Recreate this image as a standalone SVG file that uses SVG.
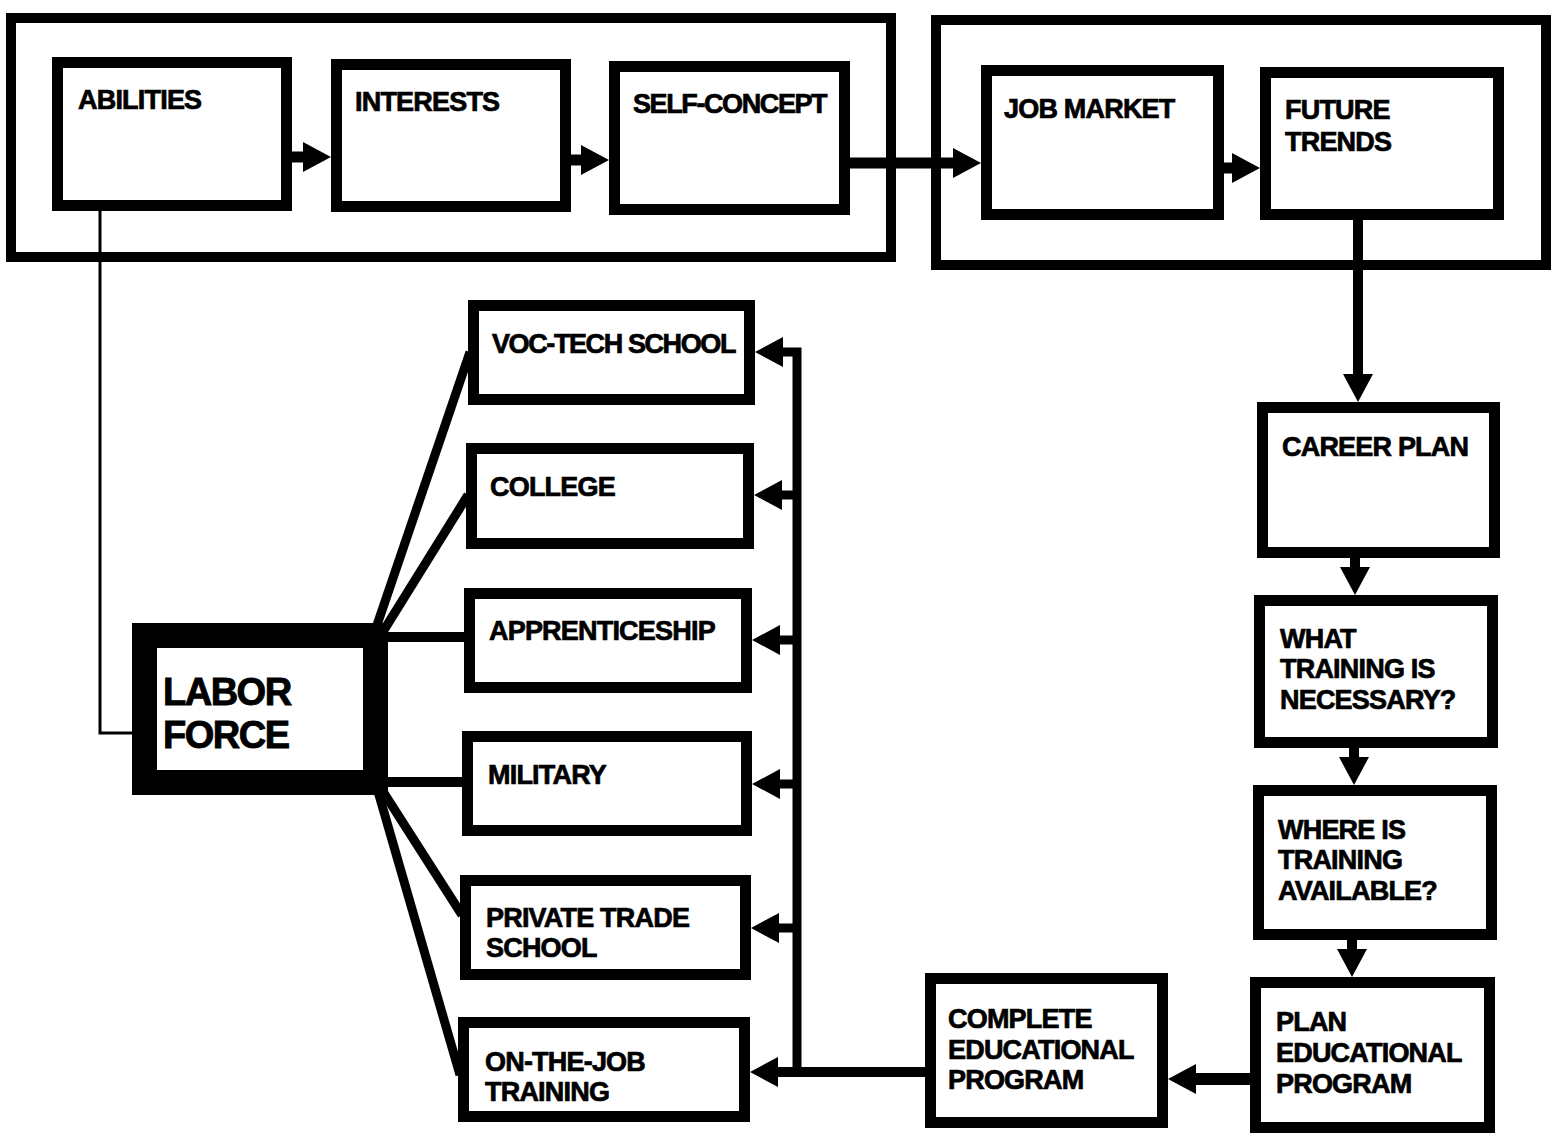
<svg xmlns="http://www.w3.org/2000/svg" width="1553" height="1138" viewBox="0 0 1553 1138">
<style>
.grp{fill:none;stroke:#000;stroke-width:10}
.box{fill:#fff;stroke:#000;stroke-width:11}
.lf{fill:#fff;stroke:#000;stroke-width:25}
.t{font-family:"Liberation Sans",Arial,sans-serif;font-weight:bold;font-size:27px;letter-spacing:-0.8px;fill:#000;stroke:#000;stroke-width:0.7}
.tn{letter-spacing:-1.4px}
.tl{font-family:"Liberation Sans",Arial,sans-serif;font-weight:bold;font-size:38px;letter-spacing:-1.5px;fill:#000;stroke:#000;stroke-width:0.9}
.c{fill:none;stroke:#000;stroke-linejoin:miter}
.a{marker-end:url(#ah)}
</style>
<defs>
<marker id="ah" markerUnits="userSpaceOnUse" viewBox="0 0 28 30" markerWidth="28" markerHeight="30" refX="14" refY="15" orient="auto">
<path d="M0,0 L28,15 L0,30 Z" fill="#000"/>
</marker>
</defs>
<rect fill="#fff" x="0" y="0" width="1553" height="1138"/>

<g id="group-self">
<rect class="grp" x="11" y="18" width="880" height="239"/>
</g>
<g id="group-world">
<rect class="grp" x="936" y="20" width="610" height="245"/>
</g>

<g id="connectors">
<line class="c a" x1="292" y1="157" x2="317" y2="157" stroke-width="11"/>
<line class="c a" x1="571" y1="160" x2="595" y2="160" stroke-width="11"/>
<line class="c a" x1="850" y1="163" x2="967" y2="163" stroke-width="11"/>
<line class="c a" x1="1224" y1="168" x2="1246" y2="168" stroke-width="11"/>
<line class="c a" x1="1358" y1="220" x2="1358" y2="388" stroke-width="10"/>
<line class="c a" x1="1355" y1="558" x2="1355" y2="581" stroke-width="10"/>
<line class="c a" x1="1354" y1="748" x2="1354" y2="771" stroke-width="10"/>
<line class="c a" x1="1352" y1="940" x2="1352" y2="963" stroke-width="10"/>
<line class="c a" x1="1250" y1="1079" x2="1182" y2="1079" stroke-width="12"/>
<line class="c a" x1="925" y1="1072" x2="764" y2="1072" stroke-width="10"/>
<path class="c a" d="M797,1076 V352 H769" stroke-width="9"/>
<line class="c a" x1="797" y1="495" x2="768" y2="495" stroke-width="9"/>
<line class="c a" x1="797" y1="640" x2="766" y2="640" stroke-width="9"/>
<line class="c a" x1="797" y1="784" x2="766" y2="784" stroke-width="9"/>
<line class="c a" x1="797" y1="928" x2="765" y2="928" stroke-width="9"/>
<path class="c" d="M100,211 V733 H132" stroke-width="3"/>
<line class="c" x1="376" y1="628" x2="470" y2="352" stroke-width="9"/>
<line class="c" x1="384" y1="630" x2="468" y2="495" stroke-width="9"/>
<line class="c" x1="380" y1="637" x2="464" y2="637" stroke-width="10"/>
<line class="c" x1="380" y1="782" x2="462" y2="782" stroke-width="10"/>
<line class="c" x1="382" y1="790" x2="462" y2="915" stroke-width="9"/>
<line class="c" x1="377" y1="788" x2="460" y2="1075" stroke-width="9"/>
</g>

<g id="abilities"><rect class="box" x="57.5" y="62.5" width="229" height="143"/><text class="t" x="78" y="109">ABILITIES</text></g>
<g id="interests"><rect class="box" x="336.5" y="64.5" width="229" height="142"/><text class="t" x="355" y="111">INTERESTS</text></g>
<g id="self-concept"><rect class="box" x="614.5" y="66.5" width="230" height="143"/><text class="t tn" x="633" y="113">SELF-CONCEPT</text></g>
<g id="job-market"><rect class="box" x="986.5" y="70.5" width="232" height="144"/><text class="t" x="1004" y="118">JOB MARKET</text></g>
<g id="future-trends"><rect class="box" x="1265.5" y="72.5" width="233" height="142"/><text class="t" x="1285" y="119">FUTURE</text><text class="t" x="1285" y="151">TRENDS</text></g>

<g id="career-plan"><rect class="box" x="1262.5" y="407.5" width="232" height="145"/><text class="t" x="1282" y="456">CAREER PLAN</text></g>
<g id="what-training"><rect class="box" x="1259.5" y="600.5" width="233" height="142"/><text class="t" x="1280" y="648">WHAT</text><text class="t" x="1280" y="678">TRAINING IS</text><text class="t" x="1280" y="709">NECESSARY?</text></g>
<g id="where-training"><rect class="box" x="1258.5" y="790.5" width="233" height="144"/><text class="t" x="1278" y="839">WHERE IS</text><text class="t" x="1278" y="869">TRAINING</text><text class="t" x="1278" y="900">AVAILABLE?</text></g>
<g id="plan-educational"><rect class="box" x="1255.5" y="982.5" width="234" height="145"/><text class="t" x="1276" y="1031">PLAN</text><text class="t" x="1276" y="1062">EDUCATIONAL</text><text class="t" x="1276" y="1093">PROGRAM</text></g>
<g id="complete-educational"><rect class="box" x="930.5" y="978.5" width="232" height="144"/><text class="t" x="948" y="1028">COMPLETE</text><text class="t" x="948" y="1059">EDUCATIONAL</text><text class="t" x="948" y="1089">PROGRAM</text></g>

<g id="voc-tech"><rect class="box" x="473.5" y="305.5" width="276" height="94"/><text class="t tn" x="492" y="353">VOC-TECH SCHOOL</text></g>
<g id="college"><rect class="box" x="471.5" y="448.5" width="277" height="95"/><text class="t" x="490" y="496">COLLEGE</text></g>
<g id="apprenticeship"><rect class="box" x="469.5" y="593.5" width="277" height="94"/><text class="t" x="489" y="640">APPRENTICESHIP</text></g>
<g id="military"><rect class="box" x="467.5" y="736.5" width="279" height="94"/><text class="t" x="488" y="784">MILITARY</text></g>
<g id="private-trade"><rect class="box" x="465.5" y="880.5" width="280" height="94"/><text class="t" x="486" y="927">PRIVATE TRADE</text><text class="t" x="486" y="957">SCHOOL</text></g>
<g id="on-the-job"><rect class="box" x="463.5" y="1022.5" width="281" height="94"/><text class="t" x="485" y="1071">ON-THE-JOB</text><text class="t" x="485" y="1101">TRAINING</text></g>

<g id="labor-force"><rect class="lf" x="144.5" y="635.5" width="231" height="147"/><text class="tl" x="163" y="705">LABOR</text><text class="tl" x="163" y="748">FORCE</text></g>
</svg>
